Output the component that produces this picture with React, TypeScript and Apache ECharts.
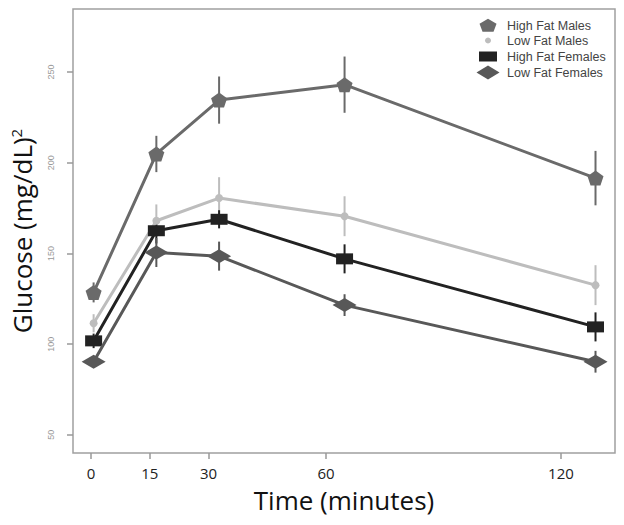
import React, { useEffect, useRef } from "react";
import * as echarts from "echarts";

const times = [0, 15, 30, 60, 120];
const xTickLabels = [0, 15, 30, 60, 120];
const yTickLabels = [50, 100, 150, 200, 250];

const seriesNames = ["High Fat Males", "Low Fat Males", "High Fat Females", "Low Fat Females"];
const hfMales = [128.5, 204.8, 234.5, 243, 191.5];
const hfMalesErr = [5.5, 10, 13, 15.5, 15];
const lfMales = [111.5, 168, 180.5, 170.5, 132.5];
const lfMalesErr = [5, 9, 11.5, 11, 11];
const hfFemales = [101.8, 162.5, 168.8, 147, 109.5];
const hfFemalesErr = [4, 7, 5, 8, 8];
const lfFemales = [90.3, 150.5, 148.5, 121.5, 90.3];
const lfFemalesErr = [3, 8, 8, 6, 6];

const colors = ["#6a6a6a", "#bdbdbd", "#222222", "#585858"];
const pentagon = "path://M0,-10L9.51,-3.09L5.88,8.09L-5.88,8.09L-9.51,-3.09Z";
const symbols = [pentagon, "circle", "rect", "diamond"];
const symbolSizes: any[] = [[16, 15], 8, [17, 11], [24, 14]];

const values = [hfMales, lfMales, hfFemales, lfFemales];
const errors = [hfMalesErr, lfMalesErr, hfFemalesErr, lfFemalesErr];

export default function App() {
  const ref = useRef<HTMLDivElement>(null);
  useEffect(() => {
    if (!ref.current) return;
    const chart = echarts.init(ref.current, null, { renderer: "svg" });
    const series: any[] = [];
    values.forEach((vals, si) => {
      series.push({
        type: "custom",
        name: seriesNames[si] + " err",
        xAxisIndex: 0,
        yAxisIndex: 0,
        z: 2,
        encode: { x: 0, y: 1 },
        data: times.map((t, i) => [t, vals[i], errors[si][i]]),
        renderItem: (params: any, api: any) => {
          const x = api.value(0);
          const y = api.value(1);
          const e = api.value(2);
          const top = api.coord([x, y + e]);
          const bot = api.coord([x, y - e]);
          return {
            type: "line",
            shape: { x1: top[0], y1: top[1], x2: bot[0], y2: bot[1] },
            style: { stroke: colors[si], lineWidth: 2 },
          };
        },
      });
    });
    values.forEach((vals, si) => {
      series.push({
        type: "line",
        name: seriesNames[si],
        xAxisIndex: 0,
        yAxisIndex: 0,
        z: 3 + si,
        data: times.map((t, i) => [t, vals[i]]),
        symbol: symbols[si],
        symbolSize: symbolSizes[si],
        showSymbol: true,
        itemStyle: { color: colors[si] },
        lineStyle: { color: colors[si], width: 3 },
      });
    });

    const legendY = [25.7, 40.5, 56.5, 72.5];
    const lx = 488;
    const legendGraphics: any[] = [
      {
        type: "polygon",
        shape: {
          points: [
            [lx, legendY[0] - 7],
            [lx + 8.5, legendY[0] - 2],
            [lx + 5.5, legendY[0] + 6],
            [lx - 5.5, legendY[0] + 6],
            [lx - 8.5, legendY[0] - 2],
          ],
        },
        style: { fill: colors[0] },
      },
      { type: "circle", shape: { cx: lx, cy: legendY[1], r: 3 }, style: { fill: colors[1] } },
      { type: "rect", shape: { x: lx - 9, y: legendY[2] - 5, width: 18, height: 10 }, style: { fill: colors[2] } },
      {
        type: "polygon",
        shape: {
          points: [
            [lx - 11.5, legendY[3]],
            [lx, legendY[3] - 7],
            [lx + 11.5, legendY[3]],
            [lx, legendY[3] + 7],
          ],
        },
        style: { fill: colors[3] },
      },
      ...seriesNames.map((n, i) => ({
        type: "text",
        x: 507,
        y: legendY[i],
        style: {
          text: n,
          fill: "#444",
          font: '12.5px "Liberation Sans", Arial, sans-serif',
          verticalAlign: "middle",
          align: "left",
        },
      })),
    ];

    chart.setOption({
      animation: false,
      backgroundColor: "#fff",
      grid: {
        left: 73,
        right: 9,
        top: 9,
        bottom: 72,
        show: true,
        containLabel: false,
        outerBoundsMode: "none",
        borderColor: "#a0a0a0",
        borderWidth: 1.5,
        backgroundColor: "transparent",
      },
      xAxis: [
        {
          type: "value",
          min: -4.93,
          max: 124.66,
          show: false,
        },
        {
          type: "value",
          min: -4.6,
          max: 133.8,
          position: "bottom",
          axisLine: { show: false, onZero: false },
          splitLine: { show: false },
          axisTick: {
            show: true,
            length: 6,
            customValues: xTickLabels,
            lineStyle: { color: "#999", width: 1.5 },
          },
          axisLabel: {
            customValues: xTickLabels,
            margin: 12,
            fontSize: 15,
            lineHeight: 16,
            color: "#222",
            fontFamily: "Open Sans",
          },
          name: "Time (minutes)",
          nameLocation: "middle",
          nameGap: 32,
          nameTextStyle: { fontSize: 26, lineHeight: 28, color: "#111", fontFamily: "Open Sans" },
        },
      ],
      yAxis: {
        type: "value",
        min: 40,
        max: 284.7,
        axisLine: { show: false, onZero: false },
        splitLine: { show: false },
        axisTick: {
          show: true,
          length: 6,
          customValues: yTickLabels,
          lineStyle: { color: "#999", width: 1.5 },
        },
        axisLabel: {
          customValues: yTickLabels,
          rotate: 90,
          margin: 18,
          fontSize: 9,
          color: "#999",
          fontFamily: "Liberation Sans",
        },
        name: "{a|Glucose (mg/dL)}{s|2}",
        nameLocation: "middle",
        nameRotate: 90,
        nameGap: 38,
        nameTextStyle: {
          rich: {
            a: { fontSize: 26, color: "#111", fontFamily: "Open Sans" },
            s: { fontSize: 15, color: "#111", fontFamily: "Open Sans", verticalAlign: "top", padding: [0, 0, 12, 0] },
          },
        },
      },
      series,
      graphic: legendGraphics,
    });
    return () => chart.dispose();
  }, []);
  return (
    <div
      ref={ref}
      style={{ position: "absolute", left: 0, top: 0, width: 624, height: 525 }}
    />
  );
}
